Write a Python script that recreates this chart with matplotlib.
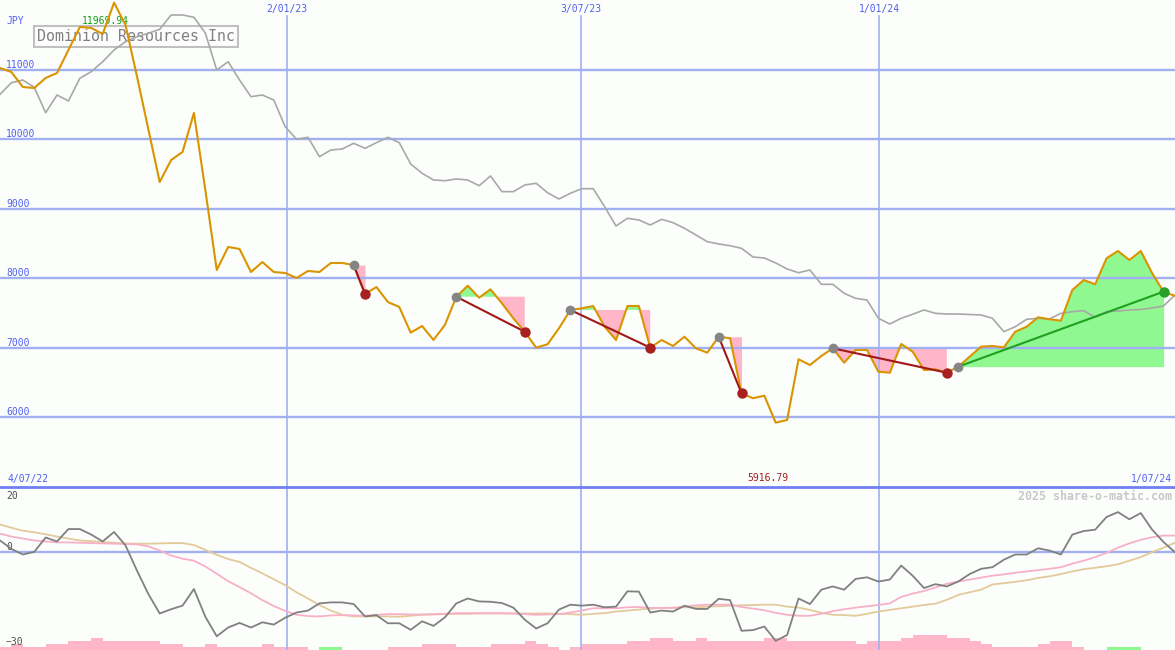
import numpy as np
import matplotlib.pyplot as plt

# weekly closes (JPY), one value per week
close = [11028, 10970, 10754, 10740, 10884, 10956, 11288, 11619, 11605, 11518,
         11969.94, 11648, 10913, 10149, 9385, 9702, 9818, 10380, 9270, 8117,
         8449, 8420, 8088, 8232, 8088, 8074, 8002, 8103, 8088, 8218,
         8218, 8189, 7771, 7872, 7656, 7584, 7214, 7310, 7109, 7325,
         7732, 7891, 7718, 7839, 7637, 7421, 7228, 6998, 7047, 7277,
         7541, 7565, 7598, 7300, 7108, 7598, 7598, 6998, 7108, 7022,
         7156, 6989, 6926, 7156, 7133, 6341, 6269, 6306, 5916.79, 5956,
         6830, 6748, 6878, 6989, 6781, 6964, 6964, 6652, 6637, 7051,
         6940, 6676, 6686, 6637, 6724, 6868, 7012, 7022, 7003, 7228,
         7300, 7436, 7407, 7387, 7829, 7973, 7911, 8286, 8391, 8261,
         8391, 8070, 7805, 7743]

# comparison line (grey)
compare = [10649, 10816, 10855, 10750, 10384, 10639, 10553, 10880, 10975, 11119,
           11288, 11407, 11479, 11528, 11586, 11792, 11792, 11759, 11532, 10999,
           11119, 10855, 10615, 10639, 10567, 10182, 10001, 10030, 9750, 9846,
           9861, 9943, 9871, 9952, 10030, 9952, 9645, 9511, 9414, 9404,
           9429, 9414, 9332, 9472, 9246, 9246, 9342, 9367, 9231, 9140,
           9223, 9289, 9289, 9029, 8751, 8862, 8838, 8766, 8848, 8799,
           8718, 8622, 8525, 8492, 8467, 8430, 8305, 8290, 8218, 8132,
           8078, 8117, 7911, 7911, 7781, 7709, 7685, 7421, 7339, 7421,
           7479, 7541, 7493, 7483, 7483, 7476, 7469, 7421, 7228, 7300,
           7407, 7421, 7411, 7493, 7516, 7531, 7436, 7516, 7526, 7541,
           7548, 7570, 7599, 7757]

# lower panel
momentum = [3.6, 1.0, -0.7, 0.1, 4.5, 3.3, 7.1, 7.1, 5.4, 3.3,
            6.2, 2.1, -5.6, -12.8, -18.8, -17.5, -16.4, -11.3, -19.8, -25.8,
            -23.1, -21.7, -23.1, -21.5, -22.2, -20.1, -18.5, -17.9, -15.7, -15.4,
            -15.4, -15.9, -19.7, -19.3, -21.8, -21.8, -23.8, -21.2, -22.6, -20.0,
            -15.7, -14.2, -15.1, -15.2, -15.6, -17.0, -20.7, -23.4, -21.8, -17.6,
            -16.1, -16.4, -16.1, -16.9, -16.7, -12.0, -12.1, -18.5, -17.9, -18.2,
            -16.4, -17.4, -17.4, -14.3, -14.7, -24.1, -23.9, -22.8, -27.2, -25.4,
            -14.2, -15.9, -11.5, -10.5, -11.5, -8.2, -7.7, -9.0, -8.4, -4.1,
            -7.2, -11.0, -9.8, -10.5, -9.0, -6.7, -5.1, -4.6, -2.3, -0.7,
            -0.7, 1.2, 0.5, -0.7, 5.4, 6.5, 6.9, 10.8, 12.3, 10.1,
            12.0, 6.9, 3.1, 0.0]

mom_fast = [5.7, 4.8, 4.2, 3.6, 3.3, 3.0, 3.0, 2.9, 2.8, 2.7,
            2.6, 2.5, 2.4, 1.8, 0.5, -1.0, -2.0, -2.6, -4.4, -6.6,
            -8.9, -10.7, -12.6, -14.7, -16.5, -18.0, -19.2, -19.6, -19.7, -19.4,
            -19.3, -19.4, -19.5, -19.2, -19.0, -19.0, -19.1, -19.1, -19.0, -18.9,
            -18.7, -18.7, -18.7, -18.7, -18.7, -18.8, -19.0, -19.2, -19.1, -19.0,
            -18.5, -17.9, -17.2, -17.2, -17.2, -16.9, -16.8, -17.1, -17.1, -17.1,
            -16.7, -16.3, -16.1, -16.1, -16.1, -16.8, -17.3, -17.8, -18.6, -19.2,
            -19.5, -19.5, -18.9, -18.1, -17.5, -17.0, -16.6, -16.2, -15.7, -13.7,
            -12.7, -11.9, -10.8, -9.7, -9.0, -8.4, -7.8, -7.2, -6.8, -6.3,
            -5.9, -5.5, -5.1, -4.6, -3.5, -2.6, -1.5, -0.2, 1.4, 2.7,
            3.8, 4.6, 5.1, 5.1]

mom_slow = [8.5, 7.5, 6.6, 6.1, 5.5, 4.8, 4.2, 3.6, 3.4, 3.1,
            2.9, 2.7, 2.6, 2.6, 2.7, 2.8, 2.8, 2.2, 0.7, -0.8,
            -2.1, -3.0, -4.8, -6.5, -8.3, -10.1, -12.3, -14.2, -16.2, -17.9,
            -19.2, -19.7, -19.7, -19.7, -19.7, -19.8, -19.5, -19.2, -19.1, -19.0,
            -18.9, -18.9, -18.8, -18.8, -18.8, -18.8, -18.8, -18.8, -18.8, -18.9,
            -19.0, -19.2, -18.9, -18.7, -18.2, -17.9, -17.6, -17.3, -17.1, -17.0,
            -16.9, -16.9, -16.7, -16.6, -16.4, -16.3, -16.2, -16.1, -16.1, -16.7,
            -17.0, -17.7, -18.6, -19.2, -19.3, -19.5, -18.9, -18.2, -17.7, -17.2,
            -16.7, -16.2, -15.8, -14.6, -13.1, -12.3, -11.5, -9.9, -9.5, -9.1,
            -8.6, -7.9, -7.4, -6.7, -5.9, -5.2, -4.8, -4.3, -3.7, -2.6,
            -1.5, 0.0, 1.4, 2.9]

vol = [0.8, 1.8, 0.8, 0.8, 1.8, 1.8, 2.8, 2.8, 3.6, 2.8,
       2.8, 2.8, 2.8, 2.8, 1.8, 1.8, 0.8, 0.8, 1.8, 0.8,
       0.8, 0.8, 0.8, 1.8, 0.8, 0.8, 0.8, 0, 0.8, 0.8,
       0, 0, 0, 0, 0.8, 0.8, 0.8, 1.8, 1.8, 1.8,
       0.8, 0.8, 0.8, 1.8, 1.8, 1.8, 2.8, 1.8, 0.8, 0,
       0.8, 1.8, 1.8, 1.8, 1.8, 2.8, 2.8, 3.6, 3.6, 2.8,
       2.8, 3.6, 2.8, 2.8, 2.8, 2.8, 2.8, 3.6, 3.6, 2.8,
       2.8, 2.8, 2.8, 2.8, 2.8, 1.8, 2.8, 2.8, 2.8, 3.6,
       4.6, 4.6, 4.6, 3.6, 3.6, 2.8, 1.8, 0.8, 0.8, 0.8,
       0.8, 1.8, 2.8, 2.8, 0.8, 0, 0, 0.8, 0.8, 0.8,
       0, 0, 0, 0]
green_bars = [28, 29, 97, 98, 99]

# (entry week, exit week)
trades = [(31, 32), (40, 46), (50, 57), (63, 65), (73, 83), (84, 102)]

price_ticks = [6000, 7000, 8000, 9000, 10000, 11000]
date_pos = [25.15, 50.95, 77.05]
date_labels = ['2/01/23', '3/07/23', '1/01/24']
start_label = '4/07/22'
end_label = '1/07/24'
name = 'Dominion Resources Inc'

BG = '#FCFEFC'
GRID = '#A0B0F0'
BLUE_TXT = '#5060F0'
PINK = '#FFB6C8'
GREEN = '#90F890'
MONO = 'DejaVu Sans Mono'

W, H, SPLIT = 1175, 650, 487
x = np.arange(len(close))
close = np.array(close)

fig = plt.figure(figsize=(W / 100, H / 100), dpi=100, facecolor=BG)
ax = fig.add_axes([0, (H - SPLIT) / H, 1, SPLIT / H])
ax2 = fig.add_axes([0, 0, 1, (H - SPLIT) / H])
for a in (ax, ax2):
    a.set_facecolor(BG)
    a.set_xlim(0, len(close) - 1)
    a.set_xticks([])
    a.set_yticks([])
    for s in a.spines.values():
        s.set_visible(False)
ax.set_ylim(4990, 12008)
ax2.set_ylim(-30, 20)

# ---- top panel ----
for v in price_ticks:
    ax.axhline(v, color=GRID, lw=1.7, zorder=2)
    ax.annotate(str(v), xy=(6 / W, v), xycoords=('axes fraction', 'data'),
                ha='left', va='bottom', fontsize=7, color=BLUE_TXT, family=MONO, zorder=2)
for p, lab in zip(date_pos, date_labels):
    ax.axvline(p, ymin=0, ymax=1 - 16 / SPLIT, color=GRID, lw=1.2, zorder=2)
    ax.text(p, 1 - 9 / SPLIT, lab, transform=ax.get_xaxis_transform(), ha='center',
            va='center', fontsize=7, color=BLUE_TXT, family=MONO)
    ax2.axvline(p, color=GRID, lw=1.2, zorder=2)

for s, e in trades:
    xs, ys, lvl = x[s:e + 1], close[s:e + 1], close[s]
    ax.fill_between(xs, ys, lvl, where=ys < lvl, interpolate=True, color=PINK, lw=0, zorder=1)
    ax.fill_between(xs, ys, lvl, where=ys >= lvl, interpolate=True, color=GREEN, lw=0, zorder=1)
    won = close[e] > lvl
    ax.plot([s, e], [lvl, close[e]], color='#20A020' if won else '#A01818', lw=1.5, zorder=5)
    ax.plot(s, lvl, 'o', color='#858585', ms=7, mec='none', zorder=6)
    ax.plot(e, close[e], 'o', color='#28A028' if won else '#A82020', ms=7.5, mec='none', zorder=6)

ax.plot(x, compare, color='#A8A8A8', lw=1.2, zorder=3)
ax.plot(x, close, color='#DA9400', lw=1.5, zorder=4)

ax.text(6 / W, 1 - 21 / SPLIT, 'JPY', transform=ax.transAxes, ha='left', va='center',
        fontsize=7, color=BLUE_TXT, family=MONO)
ax.text(37 / W, 1 - 36.5 / SPLIT, name, transform=ax.transAxes, ha='left', va='center',
        fontsize=10.8, color='#808080', family=MONO, zorder=2.5,
        bbox=dict(boxstyle='square,pad=0.2', fc='none', ec='#C0C0C0', lw=1.5))

hi = int(np.argmax(close))
lo = int(np.argmin(close))
ax.annotate(f'{close[hi]:.2f}', xy=(hi, close[hi]), xytext=(-6.3, -13.2),
            textcoords='offset points', ha='center', va='center', fontsize=7,
            color='#10A010', family=MONO, zorder=2.5)
ax.annotate(f'{close[lo]:.2f}', xy=(lo, 0), xycoords=('data', 'axes fraction'),
            xytext=(-5.9, 6.5), textcoords='offset points', ha='center', va='center',
            fontsize=7, color='#A02020', family=MONO)
ax.text(8 / W, 8 / SPLIT, start_label, transform=ax.transAxes, ha='left', va='center',
        fontsize=7, color=BLUE_TXT, family=MONO)
ax.text(1172 / W, 8 / SPLIT, end_label, transform=ax.transAxes, ha='right', va='center',
        fontsize=7, color=BLUE_TXT, family=MONO)

# ---- lower panel ----
ax2.spines['top'].set_visible(True)
ax2.spines['top'].set_color('#7080F0')
ax2.spines['top'].set_linewidth(2.0)
ax2.axhline(0, color=GRID, lw=1.7, zorder=2)
bar_cols = [GREEN if i in green_bars else PINK for i in x]
ax2.bar(x, vol, width=1, align='edge', bottom=-30, color=bar_cols, lw=0, zorder=1)
ax2.plot(x, mom_slow, color='#E2CA9A', lw=1.3, zorder=3)
ax2.plot(x, mom_fast, color='#F8B0C8', lw=1.3, zorder=3)
ax2.plot(x, momentum, color='#808080', lw=1.3, zorder=4)

h2 = H - SPLIT
ax2.text(6 / W, 1 - 9 / h2, '20', transform=ax2.transAxes, ha='left', va='center',
         fontsize=7, color='#505050', family=MONO)
ax2.annotate('0', xy=(6 / W, 0), xycoords=('axes fraction', 'data'), ha='left',
             va='bottom', fontsize=7, color='#505050', family=MONO)
ax2.text(6 / W, 8 / h2, '\u221230', transform=ax2.transAxes, ha='left', va='center',
         fontsize=7, color='#505050', family=MONO, zorder=5)
ax2.text(1172 / W, 1 - 9 / h2, '2025 share-o-matic.com', transform=ax2.transAxes,
         ha='right', va='center', fontsize=8.4, fontweight='bold', color='#C8C8C8',
         family=MONO)

fig.savefig('out.png', dpi=100, facecolor=BG)
